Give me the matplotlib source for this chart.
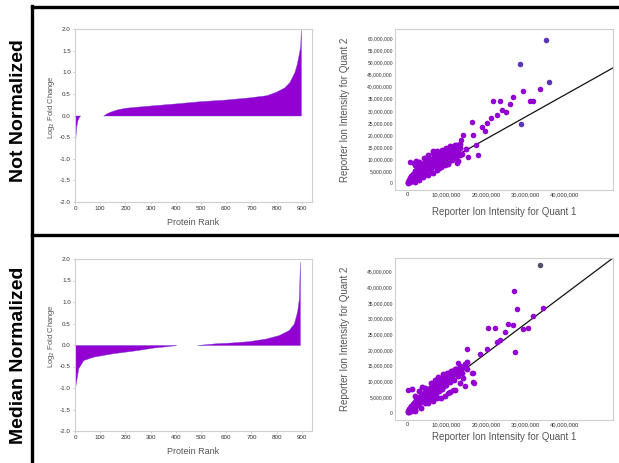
import numpy as np
import matplotlib
matplotlib.use("Agg")
import matplotlib.pyplot as plt
from matplotlib.ticker import FuncFormatter
from matplotlib.lines import Line2D

plt.rcParams['font.family'] = ['Liberation Sans', 'DejaVu Sans']

# Log2 fold change vs protein rank (breakpoints)
nn_neg_rank = [0, 2, 5, 10, 16, 20]
nn_neg_val = [-0.72, -0.45, -0.25, -0.1, -0.03, 0]
nn_pos_rank = [112, 125, 140, 166, 200, 296, 400, 494, 600, 692, 760, 797, 830, 850, 870, 880, 889, 893, 896]
nn_pos_val = [0, 0.05, 0.09, 0.14, 0.18, 0.23, 0.28, 0.33, 0.37, 0.42, 0.47, 0.55, 0.65, 0.77, 1.0, 1.2, 1.47, 1.6, 2.0]

mn_neg_rank = [0, 13, 33, 73, 152, 244, 310, 376, 402]
mn_neg_val = [-1.0, -0.54, -0.35, -0.27, -0.19, -0.12, -0.06, -0.02, 0]
mn_pos_rank = [485, 558, 624, 690, 756, 808, 848, 868, 881, 888, 892]
mn_pos_val = [0, 0.04, 0.06, 0.09, 0.15, 0.23, 0.35, 0.5, 0.78, 1.08, 1.94]

rank_ticks = [0, 100, 200, 300, 400, 500, 600, 700, 800, 900]
fc_ticks = [-2.0, -1.5, -1.0, -0.5, 0.0, 0.5, 1.0, 1.5, 2.0]

# Reporter ion intensities, millions (quant 1, quant 2)
nn_cl_x = [0.2, 0.4, 0.5, 0.7, 0.8, 1.0, 1.1, 1.3, 1.5, 1.6, 1.8, 2.0, 2.1, 2.3, 2.5, 2.7, 2.8, 3.0,
           3.2, 3.3, 3.5, 3.7, 3.9, 4.0, 4.2, 4.4, 4.5, 4.7, 4.9, 5.0, 5.2, 5.4, 5.5, 5.7, 5.9, 6.0,
           6.2, 6.4, 6.6, 6.8, 7.0, 7.1, 7.3, 7.5, 7.7, 7.9, 8.1, 8.3, 8.5, 8.7, 8.9, 9.1, 9.3, 9.5,
           9.7, 9.9, 10.1, 10.3, 10.5, 10.8, 11.0, 11.2, 11.5, 11.8, 12.0, 12.3, 12.6, 13.0, 13.4,
           1.8, 2.4, 6.5, 9.0, 11.5, 12.8, 10.5, 15.0, 3.0, 4.0, 6.0, 8.0,
           0.3, 0.6, 0.9, 1.2, 1.4, 1.7, 1.9, 2.2, 2.4, 2.6, 2.9, 3.1, 3.4, 3.6, 3.8, 4.1, 4.3, 4.6,
           4.8, 5.1, 5.3, 5.6, 5.8, 6.1, 6.3, 6.5, 6.7, 6.9, 7.2, 7.4, 7.6, 7.8, 8.0, 8.2, 8.4, 8.6,
           8.8, 9.0, 9.4, 9.8, 10.2, 10.6, 11.0, 11.4, 11.8, 12.2, 12.6, 13.2,
           2.0, 3.0, 4.0, 5.4, 6.5, 7.5, 8.5, 9.6, 10.5, 11.5, 12.5, 13.4, 14.0,
           2.0, 3.0, 4.2, 5.3, 6.5, 7.6, 8.8, 10.0, 11.0, 12.1, 13.5]
nn_cl_y = [0.3, 0.8, 1.5, 0.5, 2.2, 1.2, 3.0, 1.8, 2.6, 4.0, 1.5, 3.3, 5.0, 2.4, 4.2, 6.0, 3.1, 5.2,
           7.0, 3.8, 6.0, 4.5, 7.6, 5.4, 8.5, 6.4, 4.8, 7.4, 9.2, 5.8, 8.0, 6.6, 10.0, 7.4, 8.8, 6.2,
           9.6, 7.8, 10.6, 8.4, 7.0, 11.0, 9.2, 10.2, 8.0, 11.6, 9.6, 12.2, 10.6, 8.8, 12.6, 11.2, 10.0, 13.0,
           11.8, 14.0, 12.4, 10.8, 13.6, 14.8, 12.0, 15.0, 13.2, 15.4, 11.5, 14.2, 15.8, 13.0, 14.6,
           8.6, 9.4, 13.4, 13.2, 10.0, 9.2, 7.8, 14.0, 2.2, 3.2, 4.6, 6.4,
           0.5, 1.0, 1.6, 2.0, 3.0, 2.8, 3.8, 3.6, 5.6, 4.6, 4.2, 6.2, 5.0, 6.8, 5.6, 6.6, 5.4, 8.0,
           6.0, 7.0, 9.0, 8.6, 6.8, 8.0, 8.8, 9.4, 7.2, 9.8, 8.2, 10.6, 9.0, 10.0, 8.6, 11.0, 9.2, 12.0,
           10.2, 11.6, 12.0, 12.8, 11.6, 12.8, 14.0, 13.8, 12.6, 13.4, 14.8, 15.2,
           0.7, 1.5, 2.4, 3.4, 4.4, 5.4, 6.6, 7.6, 8.6, 9.6, 10.6, 11.6, 12.0,
           7.5, 8.8, 10.4, 11.7, 12.6, 13.2, 13.8, 14.6, 15.4, 15.9, 16.2]
nn_out_x = [20.2, 18.9, 19.7, 16.4, 16.8, 14.3, 13.8, 17.6, 18.0, 15.5, 12.6, 0.8,
            26.9, 23.5, 21.8, 26.0, 31.1, 32.0, 24.0, 25.2, 22.7, 21.4, 33.6, 29.3]
nn_out_y = [24.8, 23.4, 21.8, 25.5, 20.0, 20.0, 17.9, 15.9, 11.7, 11.0, 8.3, 9.0,
            35.9, 34.2, 34.2, 32.8, 34.1, 34.2, 30.3, 29.6, 28.3, 26.9, 38.9, 38.3]
nn_blue_x = [35.2, 28.6, 36.0, 29.0]
nn_blue_y = [59.3, 49.4, 42.1, 24.5]

mn_cl_x = [0.2, 0.4, 0.6, 0.8, 1.0, 1.2, 1.4, 1.6, 1.8, 2.0, 2.2, 2.4, 2.6, 2.8, 3.0, 3.2, 3.4, 3.6,
           3.8, 4.0, 4.2, 4.4, 4.6, 4.8, 5.0, 5.2, 5.4, 5.6, 5.8, 6.0, 6.2, 6.4, 6.6, 6.8, 7.0, 7.2,
           7.4, 7.6, 7.8, 8.0, 8.2, 8.4, 8.6, 8.8, 9.0, 9.2, 9.4, 9.6, 9.8, 10.0, 10.3, 10.6, 10.9,
           11.2, 11.5, 11.8, 12.1, 12.4, 12.8, 13.2, 13.6, 14.0, 14.4, 14.8, 15.2, 1.2, 3.7, 2.0, 4.5,
           0.3, 0.5, 0.7, 0.9, 1.1, 1.3, 1.5, 1.7, 1.9, 2.1, 2.3, 2.5, 2.7, 2.9, 3.1, 3.3, 3.5, 3.7,
           3.9, 4.1, 4.3, 4.5, 4.7, 4.9, 5.1, 5.3, 5.5, 5.7, 5.9, 6.1, 6.3, 6.5, 6.7, 6.9, 7.1, 7.3,
           7.5, 7.7, 7.9, 8.1, 8.5, 8.9, 9.3, 9.7, 10.1, 10.5, 11.0, 11.5, 12.0, 12.5, 13.0,
           2.0, 3.5, 5.4, 6.5, 7.5, 8.5, 9.6, 10.8, 12.2, 13.5, 14.2,
           2.0, 3.0, 4.5, 6.0, 7.0, 7.9, 9.0, 10.2, 11.2, 12.2, 13.5, 15.1]
mn_cl_y = [0.2, 0.9, 0.3, 1.6, 0.8, 2.2, 1.2, 2.8, 1.6, 3.4, 2.0, 4.0, 2.4, 4.6, 2.8, 5.0, 3.4, 5.6,
           3.8, 6.0, 4.2, 6.4, 4.6, 7.0, 5.0, 7.4, 3.6, 6.2, 8.0, 5.6, 7.6, 4.8, 8.6, 6.6, 9.0, 7.0,
           5.6, 9.6, 7.8, 10.2, 6.8, 8.8, 10.8, 7.6, 9.6, 11.4, 8.4, 10.4, 12.0, 9.0, 11.2, 12.6, 9.8,
           12.0, 13.2, 10.6, 12.6, 13.8, 11.8, 13.6, 14.4, 12.8, 14.6, 15.4, 14.0, 7.6, 8.3, 1.0, 3.0,
           0.5, 1.2, 1.4, 0.6, 2.0, 1.6, 2.0, 2.2, 3.0, 2.6, 3.2, 3.0, 3.6, 3.2, 4.2, 3.8, 4.6, 4.4,
           5.2, 4.6, 5.4, 5.2, 6.0, 5.6, 6.4, 5.8, 7.0, 6.8, 6.4, 7.2, 6.6, 7.8, 7.4, 8.2, 7.8, 8.6,
           8.2, 8.0, 9.0, 8.8, 9.4, 10.0, 10.6, 10.8, 11.2, 11.6, 11.4, 12.2, 12.8, 12.4, 13.4,
           0.4, 1.6, 3.0, 3.8, 4.6, 4.8, 5.4, 6.6, 7.4, 9.6, 11.0,
           5.4, 6.8, 8.0, 9.4, 10.4, 11.5, 12.4, 12.8, 13.4, 13.8, 15.0, 16.3]
mn_out_x = [27.2, 27.8, 34.4, 32.0, 30.6, 29.3, 26.9, 25.6, 24.8, 27.3, 20.6, 22.3, 23.5, 22.7,
            20.2, 18.5, 15.1, 16.8, 16.6, 14.7, 13.0, 11.7, 0.3, 16.4, 17.0, 10.5]
mn_out_y = [38.8, 33.1, 33.3, 30.8, 26.9, 26.7, 28.0, 28.2, 25.8, 19.3, 26.9, 26.9, 23.2, 22.6,
            20.5, 18.9, 20.2, 12.8, 9.9, 8.6, 16.0, 7.2, 7.2, 12.6, 9.6, 6.4]
mn_dark_x = [33.7]
mn_dark_y = [47.1]

# fitted lines: end points at the right edge (millions)
nn_line_x = [0, 52.2]
nn_line_y = [0, 47.8]
mn_line_x = [0, 52.2]
mn_line_y = [0, 49.4]

intensity_x_ticks = [0, 10e6, 20e6, 30e6, 40e6]
nn_y_ticks = np.arange(0, 61e6, 5e6)
mn_y_ticks = np.arange(0, 46e6, 5e6)

purple = '#9300d2'
W, H = 619, 463
fig = plt.figure(figsize=(W / 100, H / 100), dpi=100)


def rect(l, t, r, b):
    return [l / W, 1 - b / H, (r - l) / W, (b - t) / H]


def style(ax):
    for s in ax.spines.values():
        s.set_color('#cfcfcf')
        s.set_linewidth(0.8)
    ax.tick_params(length=1.5, width=0.5, color='#bbbbbb', pad=1.5, labelcolor='#333333')


def rank_panel(ax, nr, nv, pr, pv, label_y):
    ax.fill_between(nr, nv, 0, color=purple, linewidth=0.3, edgecolor='#7a3fd8')
    ax.fill_between(pr, pv, 0, color=purple, linewidth=0.3, edgecolor='#7a3fd8')
    ax.set_xlim(0, 940)
    ax.set_ylim(-2, 2)
    ax.set_xticks(rank_ticks)
    ax.set_yticks(fc_ticks)
    ax.set_yticklabels(['%.1f' % v for v in fc_ticks])
    style(ax)
    ax.tick_params(labelsize=4.5)
    ax.set_xlabel('Protein Rank', fontsize=6.5, color='#555555')
    ax.xaxis.set_label_coords(0.5, -0.092)
    ax.set_ylabel('Log$_2$ Fold Change', fontsize=5.5, color='#555555')
    ax.yaxis.set_label_coords(-0.075, label_y)


def scatter_panel(ax, cx, cy, ox, oy, bx, by, bcol, lx, ly, xlim, ylim, yt, xlab_y):
    m = 1e6
    ax.plot(np.array(lx) * m, np.array(ly) * m, color='#111111', lw=0.9, zorder=2)
    ax.scatter(np.array(cx) * m, np.array(cy) * m, s=18, color=purple, linewidths=0, zorder=3)
    ax.scatter(np.array(ox) * m, np.array(oy) * m, s=16, color=purple, linewidths=0, zorder=3)
    ax.scatter(np.array(bx) * m, np.array(by) * m, s=16, color=bcol, linewidths=0, zorder=3)
    ax.set_xlim(*xlim)
    ax.set_ylim(*ylim)
    ax.set_xticks(intensity_x_ticks)
    ax.set_yticks(yt)
    fmt = FuncFormatter(lambda v, p: '{:,.0f}'.format(v))
    ax.xaxis.set_major_formatter(fmt)
    ax.yaxis.set_major_formatter(fmt)
    style(ax)
    ax.tick_params(axis='x', labelsize=4.2, length=0)
    ax.tick_params(axis='y', labelsize=3.6, length=0)
    ax.set_xlabel('Reporter Ion Intensity for Quant 1', fontsize=7, color='#555555')
    ax.xaxis.set_label_coords(0.5, xlab_y)
    ax.set_ylabel('Reporter Ion Intensity for Quant 2', fontsize=7, color='#555555')
    ax.yaxis.set_label_coords(-0.207, 0.5)


ax1 = fig.add_axes(rect(75, 29, 312, 202))
rank_panel(ax1, nn_neg_rank, nn_neg_val, nn_pos_rank, nn_pos_val, 0.55)

ax2 = fig.add_axes(rect(75, 259, 312, 431))
rank_panel(ax2, mn_neg_rank, mn_neg_val, mn_pos_rank, mn_pos_val, 0.55)

ax3 = fig.add_axes(rect(395, 29, 613, 190))
scatter_panel(ax3, nn_cl_x, nn_cl_y, nn_out_x, nn_out_y, nn_blue_x, nn_blue_y, '#5a36b8',
              nn_line_x, nn_line_y, (-3.04e6, 52.2e6), (-2.78e6, 63.9e6), nn_y_ticks, -0.105)

ax4 = fig.add_axes(rect(395, 258, 613, 420))
scatter_panel(ax4, mn_cl_x, mn_cl_y, mn_out_x, mn_out_y, mn_dark_x, mn_dark_y, '#55506a',
              mn_line_x, mn_line_y, (-3.04e6, 52.2e6), (-2.33e6, 49.4e6), mn_y_ticks, -0.075)

# outer frame and separator
lw = 2.4
fig.add_artist(Line2D([31.5 / W, 31.5 / W], [0, 1 - 5.5 / H], color='black', lw=lw, transform=fig.transFigure))
fig.add_artist(Line2D([31.5 / W, 1], [1 - 6.5 / H, 1 - 6.5 / H], color='black', lw=lw, transform=fig.transFigure))
fig.add_artist(Line2D([31.5 / W, 1], [1 - 235 / H, 1 - 235 / H], color='black', lw=lw, transform=fig.transFigure))

fig.text(19 / W, 1 - 111 / H, 'Not Normalized', rotation=90, ha='center', va='center',
         fontsize=14, fontweight='bold')
fig.text(19 / W, 1 - 355 / H, 'Median Normalized', rotation=90, ha='center', va='center',
         fontsize=14, fontweight='bold')

fig.savefig('out.png', dpi=100)
